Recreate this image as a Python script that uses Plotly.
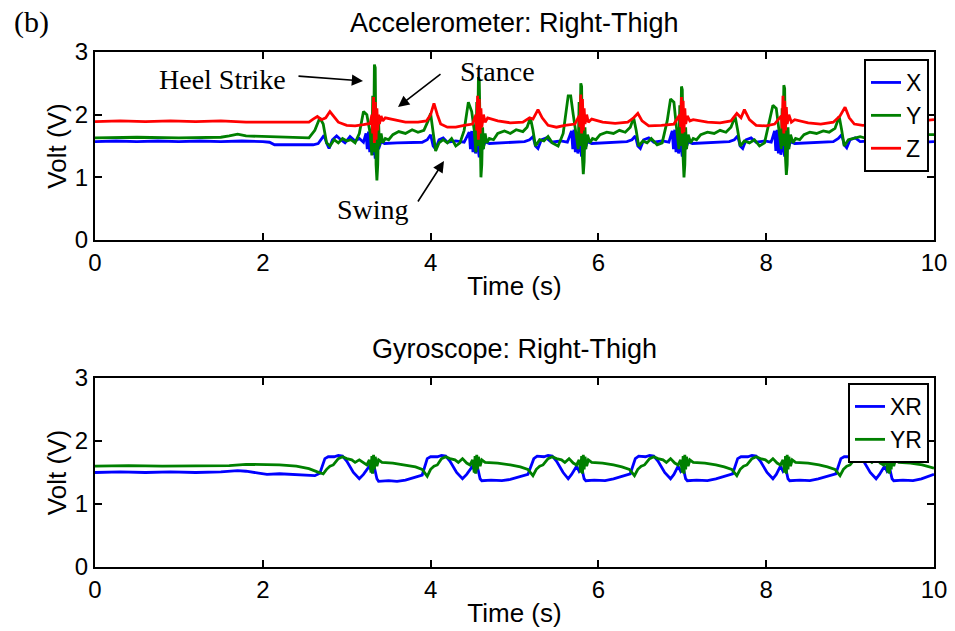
import plotly.graph_objects as go

# ---------------- data (time s, volt V) ----------------
acc_x = [(0.0,1.57),(0.25,1.58),(0.5,1.57),(0.75,1.58),(1.0,1.57),(1.25,1.58),(1.5,1.57),(1.75,1.58),(2.0,1.57),(2.08,1.56),(2.14,1.52),(2.3,1.52),(2.45,1.53),(2.6,1.52),(2.66,1.54),
 (2.7,1.62),(2.73,1.67),(2.76,1.55),(2.79,1.46),(2.83,1.6),(2.88,1.66),(2.93,1.6),(2.98,1.55),(3.04,1.65),(3.1,1.58),(3.15,1.62),(3.2,1.56),
 (3.23,1.7),(3.245,1.45),(3.26,1.73),(3.275,1.4),(3.29,1.7),(3.305,1.36),(3.32,1.62),(3.34,1.3),(3.36,1.55),(3.38,1.45),(3.41,1.57),(3.45,1.54),
 (3.6,1.55),(3.75,1.56),(3.9,1.56),(3.96,1.6),(4.0,1.68),(4.03,1.5),(4.06,1.45),(4.1,1.6),(4.15,1.63),(4.2,1.56),(4.3,1.58),(4.4,1.56),
 (4.46,1.72),(4.475,1.45),(4.49,1.74),(4.505,1.4),(4.52,1.7),(4.535,1.38),(4.55,1.62),(4.58,1.32),(4.6,1.55),(4.62,1.45),(4.65,1.57),(4.7,1.54),
 (4.85,1.55),(5.0,1.56),(5.12,1.57),(5.18,1.6),(5.22,1.65),(5.25,1.5),(5.28,1.46),(5.32,1.6),(5.38,1.63),(5.44,1.56),(5.55,1.58),(5.63,1.56),
 (5.68,1.74),(5.695,1.45),(5.71,1.76),(5.725,1.4),(5.74,1.72),(5.755,1.38),(5.77,1.62),(5.8,1.33),(5.82,1.55),(5.84,1.45),(5.87,1.57),(5.92,1.54),
 (6.05,1.55),(6.2,1.56),(6.34,1.57),(6.4,1.6),(6.44,1.66),(6.47,1.5),(6.5,1.46),(6.54,1.6),(6.6,1.63),(6.66,1.56),(6.76,1.58),(6.84,1.56),
 (6.88,1.74),(6.895,1.45),(6.91,1.76),(6.925,1.4),(6.94,1.72),(6.955,1.38),(6.97,1.62),(7.0,1.33),(7.02,1.55),(7.04,1.45),(7.07,1.57),(7.12,1.54),
 (7.25,1.55),(7.4,1.56),(7.56,1.57),(7.62,1.6),(7.66,1.66),(7.69,1.5),(7.72,1.46),(7.76,1.6),(7.82,1.63),(7.88,1.56),(7.98,1.58),(8.06,1.56),
 (8.1,1.74),(8.115,1.42),(8.13,1.76),(8.145,1.38),(8.16,1.72),(8.175,1.36),(8.19,1.62),(8.22,1.33),(8.24,1.55),(8.26,1.45),(8.29,1.57),(8.34,1.54),
 (8.5,1.55),(8.65,1.56),(8.8,1.57),(8.86,1.62),(8.9,1.68),(8.93,1.52),(8.96,1.47),(9.0,1.6),(9.06,1.63),(9.12,1.57),(9.22,1.58),(9.3,1.56),
 (9.36,1.72),(9.38,1.45),(9.4,1.72),(9.42,1.4),(9.45,1.65),(9.48,1.35),(9.5,1.55),(9.53,1.47),(9.57,1.56),(9.7,1.55),(9.85,1.56),(10.0,1.57)]

acc_y = [(0.0,1.63),(0.5,1.64),(1.0,1.63),(1.5,1.64),(1.6,1.66),(1.7,1.69),(1.8,1.66),(2.0,1.65),(2.3,1.64),(2.55,1.63),(2.62,1.75),(2.68,1.95),(2.72,1.85),(2.76,1.55),(2.8,1.5),(2.85,1.6),(2.9,1.55),(2.95,1.62),(3.0,1.58),(3.05,1.6),(3.1,1.55),(3.15,1.7),(3.2,2.05),(3.24,2.0),(3.28,1.7),
 (3.3,1.35),(3.31,2.3),(3.32,1.4),(3.33,2.8),(3.34,2.75),(3.35,1.2),(3.36,0.95),(3.37,1.2),(3.38,1.9),(3.39,1.5),(3.41,1.7),(3.43,1.55),(3.46,1.62),(3.5,1.6),
 (3.55,1.68),(3.62,1.73),(3.7,1.7),(3.78,1.76),(3.85,1.72),(3.92,1.75),(3.97,1.9),(4.0,2.02),(4.03,1.7),(4.06,1.42),(4.1,1.55),(4.15,1.6),(4.2,1.55),(4.25,1.62),(4.3,1.5),(4.35,1.55),(4.4,1.75),(4.45,2.2),(4.49,2.05),(4.52,1.75),
 (4.54,1.4),(4.55,2.2),(4.56,1.5),(4.57,2.6),(4.58,2.55),(4.59,1.3),(4.6,1.0),(4.61,1.2),(4.62,1.8),(4.63,1.45),(4.65,1.7),(4.67,1.55),(4.7,1.62),(4.75,1.6),
 (4.8,1.7),(4.88,1.74),(4.95,1.7),(5.02,1.76),(5.1,1.73),(5.15,1.8),(5.19,1.95),(5.22,1.75),(5.25,1.5),(5.3,1.6),(5.35,1.58),(5.4,1.65),(5.45,1.55),(5.52,1.5),(5.58,1.7),(5.64,2.3),(5.67,2.3),(5.7,2.0),(5.73,1.75),
 (5.76,1.45),(5.77,2.2),(5.78,1.5),(5.79,2.5),(5.8,2.45),(5.81,1.3),(5.82,1.05),(5.83,1.25),(5.84,1.8),(5.85,1.45),(5.87,1.68),(5.9,1.55),(5.93,1.62),(5.97,1.6),
 (6.02,1.68),(6.1,1.72),(6.18,1.7),(6.25,1.75),(6.32,1.72),(6.38,1.8),(6.42,1.95),(6.45,1.75),(6.48,1.5),(6.53,1.58),(6.58,1.55),(6.63,1.62),(6.7,1.52),(6.76,1.55),(6.82,1.9),(6.86,2.25),(6.9,2.2),(6.93,1.8),
 (6.96,1.45),(6.97,2.15),(6.98,1.5),(6.99,2.45),(7.0,2.4),(7.01,1.3),(7.02,1.0),(7.03,1.2),(7.04,1.8),(7.05,1.45),(7.07,1.68),(7.1,1.55),(7.13,1.62),(7.17,1.6),
 (7.22,1.68),(7.3,1.72),(7.38,1.7),(7.45,1.75),(7.52,1.72),(7.58,1.8),(7.63,1.97),(7.66,1.75),(7.69,1.5),(7.74,1.58),(7.8,1.55),(7.86,1.6),(7.92,1.5),(7.98,1.55),(8.04,1.9),(8.08,2.15),(8.12,2.1),(8.15,1.8),
 (8.18,1.45),(8.19,2.1),(8.2,1.5),(8.21,2.47),(8.22,2.42),(8.23,1.3),(8.24,1.04),(8.25,1.2),(8.26,1.8),(8.27,1.45),(8.29,1.68),(8.32,1.55),(8.35,1.62),(8.4,1.6),
 (8.45,1.68),(8.52,1.72),(8.6,1.7),(8.68,1.74),(8.75,1.72),(8.82,1.78),(8.87,1.97),(8.9,1.75),(8.93,1.5),(8.98,1.6),(9.05,1.62),(9.12,1.65),(9.2,1.62),(9.3,1.6),(9.4,1.9),(9.45,2.1),(9.48,1.8),(9.5,1.1),(9.52,1.7),(9.55,1.5),(9.6,1.62),(9.7,1.65),(9.8,1.7),(9.9,1.68),(10.0,1.68)]

acc_z = [(0.0,1.89),(0.3,1.9),(0.6,1.89),(0.9,1.9),(1.2,1.89),(1.5,1.9),(1.8,1.88),(2.1,1.88),(2.4,1.87),(2.55,1.88),
 (2.6,1.93),(2.65,1.97),(2.7,1.92),(2.75,1.95),(2.8,2.05),(2.85,1.97),(2.9,1.88),(3.0,1.83),(3.1,1.82),(3.2,1.84),(3.28,1.86),
 (3.3,2.0),(3.31,1.7),(3.32,2.28),(3.33,1.55),(3.34,2.2),(3.35,1.6),(3.36,2.1),(3.37,1.75),(3.38,2.0),(3.39,1.85),(3.41,1.98),(3.43,1.9),(3.46,1.95),
 (3.55,1.92),(3.7,1.88),(3.85,1.88),(3.95,1.9),(4.0,2.0),(4.04,2.18),(4.08,2.0),(4.12,1.85),(4.2,1.8),(4.3,1.8),(4.4,1.83),(4.5,1.85),
 (4.54,2.0),(4.55,1.75),(4.56,2.3),(4.57,1.6),(4.58,2.25),(4.59,1.7),(4.6,2.1),(4.61,1.8),(4.63,2.0),(4.65,1.88),(4.68,1.95),
 (4.8,1.9),(4.95,1.87),(5.1,1.88),(5.18,1.95),(5.22,1.93),(5.28,2.08),(5.33,1.95),(5.4,1.83),(5.5,1.8),(5.6,1.83),(5.72,1.85),
 (5.77,1.98),(5.78,1.8),(5.79,2.32),(5.8,1.7),(5.81,2.25),(5.82,1.75),(5.83,2.1),(5.84,1.85),(5.86,2.0),(5.88,1.88),(5.92,1.93),
 (6.05,1.88),(6.2,1.86),(6.35,1.88),(6.42,1.95),(6.47,2.02),(6.52,1.9),(6.6,1.82),(6.75,1.83),(6.9,1.85),
 (6.97,2.0),(6.98,1.8),(6.99,2.28),(7.0,1.7),(7.01,2.22),(7.02,1.72),(7.03,2.1),(7.04,1.85),(7.06,1.98),(7.09,1.9),(7.13,1.92),
 (7.3,1.88),(7.45,1.87),(7.58,1.9),(7.65,2.02),(7.7,1.95),(7.74,2.08),(7.8,1.92),(7.88,1.83),(8.0,1.82),(8.1,1.85),
 (8.18,1.98),(8.19,1.78),(8.2,2.3),(8.21,1.7),(8.22,2.22),(8.23,1.75),(8.24,2.12),(8.25,1.85),(8.27,2.0),(8.3,1.88),(8.34,1.92),
 (8.5,1.87),(8.65,1.85),(8.8,1.88),(8.88,1.98),(8.94,2.12),(8.99,1.95),(9.05,1.85),(9.15,1.83),(9.3,1.84),(9.45,1.86),(9.5,2.2),(9.52,1.7),(9.55,1.95),(9.7,1.9),(9.85,1.9),(10.0,1.92)]

gyr_x = [(0.0,1.50),(0.3,1.51),(0.6,1.50),(0.9,1.51),(1.2,1.50),(1.5,1.51),(1.7,1.53),(1.8,1.52),(1.95,1.49),(2.05,1.47),(2.2,1.48),(2.35,1.47),(2.5,1.46),(2.62,1.45),(2.68,1.49),
 (2.74,1.72),(2.78,1.75),(2.85,1.75),(2.9,1.77),(2.95,1.76),(3.0,1.68),(3.08,1.5),(3.15,1.4),(3.2,1.47),(3.27,1.6),(3.3,1.52),(3.33,1.58),(3.36,1.4),(3.38,1.36),(3.5,1.37),(3.6,1.36),(3.7,1.38),(3.8,1.42),(3.9,1.46),
 (3.96,1.72),(4.0,1.75),(4.08,1.75),(4.13,1.77),(4.18,1.76),(4.23,1.68),(4.31,1.5),(4.38,1.4),(4.43,1.47),(4.5,1.6),(4.53,1.52),(4.56,1.58),(4.59,1.4),(4.61,1.37),(4.72,1.38),(4.85,1.37),(4.95,1.39),(5.05,1.43),(5.16,1.47),
 (5.23,1.72),(5.27,1.76),(5.35,1.75),(5.4,1.77),(5.45,1.76),(5.5,1.68),(5.58,1.5),(5.64,1.4),(5.68,1.47),(5.74,1.6),(5.77,1.52),(5.8,1.58),(5.83,1.4),(5.85,1.37),(5.95,1.38),(6.08,1.37),(6.18,1.4),(6.28,1.44),(6.38,1.48),
 (6.44,1.72),(6.48,1.76),(6.56,1.75),(6.61,1.77),(6.66,1.76),(6.71,1.68),(6.79,1.5),(6.86,1.4),(6.9,1.47),(6.95,1.6),(6.98,1.52),(7.01,1.58),(7.04,1.4),(7.06,1.37),(7.17,1.38),(7.3,1.37),(7.4,1.4),(7.5,1.44),(7.6,1.48),
 (7.66,1.72),(7.7,1.75),(7.78,1.75),(7.83,1.77),(7.88,1.76),(7.93,1.68),(8.01,1.5),(8.08,1.4),(8.12,1.47),(8.17,1.6),(8.2,1.52),(8.23,1.58),(8.26,1.4),(8.28,1.37),(8.4,1.38),(8.52,1.37),(8.62,1.4),(8.72,1.44),(8.83,1.48),
 (8.89,1.72),(8.93,1.75),(9.01,1.75),(9.06,1.77),(9.11,1.76),(9.16,1.68),(9.24,1.5),(9.31,1.4),(9.35,1.47),(9.41,1.6),(9.44,1.52),(9.47,1.58),(9.5,1.4),(9.52,1.37),(9.63,1.38),(9.75,1.37),(9.85,1.4),(10.0,1.47)]

gyr_y = [(0.0,1.60),(0.4,1.61),(0.8,1.60),(1.2,1.61),(1.6,1.61),(1.8,1.63),(2.0,1.63),(2.2,1.62),(2.4,1.6),(2.55,1.56),(2.65,1.51),(2.72,1.48),
 (2.76,1.55),(2.8,1.6),(2.84,1.62),(2.9,1.72),(2.95,1.75),(3.0,1.72),(3.06,1.7),(3.1,1.66),(3.15,1.7),(3.2,1.65),(3.24,1.62),(3.27,1.7),(3.29,1.5),(3.3,1.76),(3.31,1.48),(3.32,1.78),(3.33,1.55),(3.34,1.75),(3.36,1.6),(3.38,1.7),(3.42,1.66),(3.55,1.65),(3.7,1.62),(3.82,1.59),(3.9,1.55),(3.96,1.44),
 (4.0,1.55),(4.04,1.6),(4.08,1.62),(4.13,1.72),(4.18,1.75),(4.23,1.72),(4.29,1.7),(4.33,1.66),(4.38,1.72),(4.43,1.65),(4.47,1.62),(4.5,1.7),(4.52,1.5),(4.53,1.76),(4.54,1.48),(4.55,1.78),(4.56,1.55),(4.57,1.75),(4.59,1.6),(4.61,1.7),(4.65,1.66),(4.8,1.65),(4.95,1.62),(5.07,1.59),(5.16,1.55),(5.22,1.45),
 (5.26,1.55),(5.3,1.6),(5.34,1.62),(5.4,1.72),(5.45,1.75),(5.5,1.72),(5.56,1.7),(5.6,1.66),(5.65,1.72),(5.7,1.65),(5.74,1.62),(5.77,1.7),(5.79,1.5),(5.8,1.76),(5.81,1.48),(5.82,1.78),(5.83,1.55),(5.84,1.75),(5.86,1.6),(5.88,1.7),(5.92,1.66),(6.05,1.65),(6.18,1.62),(6.28,1.59),(6.37,1.55),(6.43,1.45),
 (6.47,1.55),(6.51,1.6),(6.55,1.62),(6.61,1.72),(6.66,1.75),(6.71,1.72),(6.77,1.7),(6.81,1.66),(6.86,1.72),(6.91,1.65),(6.95,1.62),(6.98,1.7),(7.0,1.5),(7.01,1.76),(7.02,1.48),(7.03,1.78),(7.04,1.55),(7.05,1.75),(7.07,1.6),(7.09,1.7),(7.13,1.66),(7.27,1.65),(7.4,1.62),(7.5,1.59),(7.59,1.55),(7.65,1.45),
 (7.69,1.55),(7.73,1.6),(7.77,1.62),(7.83,1.72),(7.88,1.75),(7.93,1.72),(7.99,1.7),(8.03,1.66),(8.08,1.72),(8.13,1.65),(8.17,1.62),(8.2,1.7),(8.22,1.5),(8.23,1.76),(8.24,1.48),(8.25,1.78),(8.26,1.55),(8.27,1.75),(8.29,1.6),(8.31,1.7),(8.35,1.66),(8.5,1.65),(8.63,1.62),(8.73,1.59),(8.82,1.55),(8.88,1.45),
 (8.92,1.55),(8.96,1.6),(9.0,1.62),(9.06,1.72),(9.11,1.75),(9.16,1.72),(9.22,1.7),(9.26,1.66),(9.31,1.72),(9.36,1.65),(9.4,1.62),(9.43,1.7),(9.45,1.5),(9.46,1.76),(9.47,1.48),(9.48,1.78),(9.49,1.55),(9.5,1.75),(9.52,1.6),(9.54,1.7),(9.58,1.66),(9.72,1.65),(9.86,1.62),(10.0,1.57)]

x_ticks = [0, 2, 4, 6, 8, 10]
y_ticks = [0, 1, 2, 3]
acc_names = ["X", "Y", "Z"]
gyr_names = ["XR", "YR"]
colors = {"X": "#0000ff", "Y": "#008000", "Z": "#ff0000", "XR": "#0000ff", "YR": "#008000"}

# ---------------- figure ----------------
W, H = 955, 631
SANS = "Liberation Sans, Arial, sans-serif"
SERIF = "Liberation Serif, Times New Roman, serif"

def unzip(pairs):
    return [p[0] for p in pairs], [p[1] for p in pairs]

fig = go.Figure()
for name, data in zip(acc_names, [acc_x, acc_y, acc_z]):
    t, v = unzip(data)
    fig.add_trace(go.Scatter(x=t, y=v, mode="lines", name=name,
                             line=dict(color=colors[name], width=2.8),
                             xaxis="x", yaxis="y", legend="legend"))
for name, data in zip(gyr_names, [gyr_x, gyr_y]):
    t, v = unzip(data)
    fig.add_trace(go.Scatter(x=t, y=v, mode="lines", name=name,
                             line=dict(color=colors[name], width=2.8),
                             xaxis="x2", yaxis="y2", legend="legend2"))

def px_x(p):
    return p / W

def px_y(p):
    return 1 - p / H

xdom = [px_x(95), px_x(934)]
ydom_top = [px_y(240), px_y(52)]
ydom_bot = [px_y(567), px_y(378)]

axis_common = dict(showline=True, linecolor="black", linewidth=2, mirror="ticks",
                   ticks="inside", ticklen=7, tickwidth=2, tickcolor="black",
                   showgrid=False, zeroline=False, automargin=False,
                   tickfont=dict(family=SANS, size=24, color="black"))
xt = dict(text="Time (s)", font=dict(family=SANS, size=26, color="black"), standoff=2)
yt = dict(text="Volt (V)", font=dict(family=SANS, size=26, color="black"), standoff=1)

leg_common = dict(x=px_x(929), xanchor="right", yanchor="top",
                  bgcolor="white", bordercolor="black", borderwidth=2,
                  font=dict(family=SANS, size=23, color="black"), itemwidth=30)

fig.update_layout(
    width=W, height=H, margin=dict(l=0, r=0, t=0, b=0, autoexpand=False),
    paper_bgcolor="white", plot_bgcolor="white",
    xaxis=dict(domain=xdom, range=[0, 10], tickvals=x_ticks, anchor="y", title=xt, **axis_common),
    yaxis=dict(domain=ydom_top, range=[0, 3], tickvals=y_ticks, anchor="x", title=yt, **axis_common),
    xaxis2=dict(domain=xdom, range=[0, 10], tickvals=x_ticks, anchor="y2", title=xt, **axis_common),
    yaxis2=dict(domain=ydom_bot, range=[0, 3], tickvals=y_ticks, anchor="x2", title=yt, **axis_common),
    legend=dict(y=px_y(59), **leg_common),
    legend2=dict(y=px_y(383), **leg_common),
)

def label(text, cx, cy, family, size):
    return dict(text=text, x=px_x(cx), y=px_y(cy), xref="paper", yref="paper",
                xanchor="center", yanchor="middle", showarrow=False,
                font=dict(family=family, size=size, color="black"))

ann = [
    label("Accelerometer: Right-Thigh", 514, 23, SANS, 27),
    label("Gyroscope: Right-Thigh", 514, 349, SANS, 27),
    label("(b)", 31, 22, SERIF, 30),
    label("Heel Strike", 222, 79, SERIF, 28),
    label("Stance", 497, 71, SERIF, 28),
    label("Swing", 373, 209, SERIF, 28),
]
for hx, hy, tx, ty in [(363, 81, 297, 76), (398, 107, 442, 73), (444, 161, 417, 203)]:
    ann.append(dict(text="", x=px_x(hx), y=px_y(hy), xref="paper", yref="paper",
                    ax=tx - hx, ay=ty - hy, showarrow=True, arrowhead=2, arrowsize=1.4,
                    arrowwidth=1.6, arrowcolor="black"))
fig.update_layout(annotations=ann)

fig.write_html("out.html")
